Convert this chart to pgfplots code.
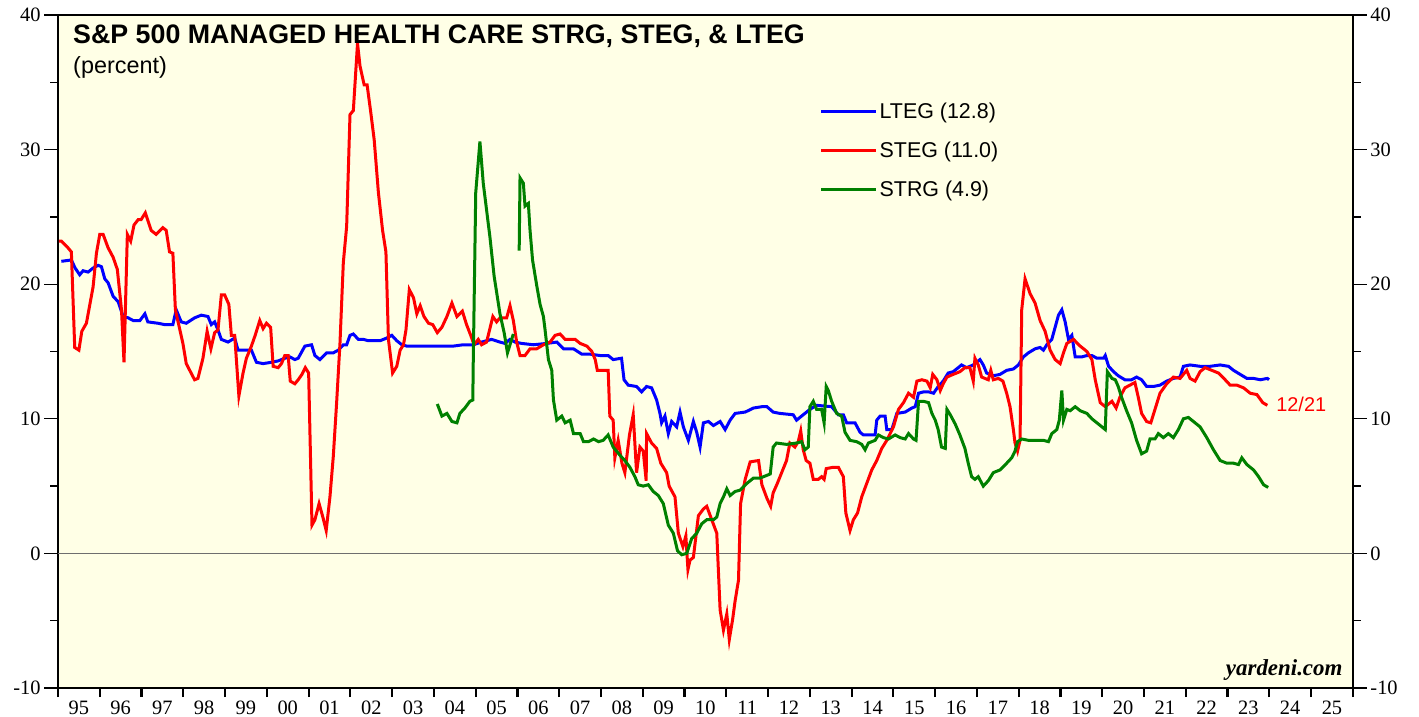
\documentclass[border=0pt]{standalone}
\usepackage{pgfplots}
\pgfplotsset{compat=1.18}
\usepackage{fontspec}
\setmainfont{Liberation Serif}
\newfontfamily\arial{Liberation Sans}
\definecolor{bgyellow}{RGB}{255,255,230}
\definecolor{zgray}{RGB}{110,110,110}
\definecolor{dgreen}{RGB}{0,128,0}
\pgfplotsset{
  base/.style={scale only axis, width=1295bp, height=673bp,
    xmin=1995, xmax=2026, ymin=-10, ymax=40, at={(0,0)}, anchor=south west},
}
\begin{document}
\begin{tikzpicture}
\useasboundingbox (-58bp,-29bp) rectangle (1361bp,688bp);
% left y ticks
\begin{axis}[base, hide x axis, axis line style={draw=none},
  ytick={-10,0,10,20,30,40}, yticklabels={-10,0,10,20,30,40},
  minor ytick={-5,5,15,25,35},
  ytick pos=left, tick align=outside, major tick length=14bp, minor tick length=8bp,
  every tick/.style={black, line width=1.3bp},
  yticklabel style={font=\fontsize{20.5}{24}\selectfont}]
\end{axis}
% right y ticks
\begin{axis}[base, hide x axis, axis line style={draw=none},
  ytick={-10,0,10,20,30,40}, yticklabels={-10,0,10,20,30,40},
  minor ytick={-5,5,15,25,35},
  ytick pos=right, yticklabel pos=right, tick align=outside, major tick length=14bp, minor tick length=8bp,
  every tick/.style={black, line width=1.3bp},
  yticklabel style={font=\fontsize{20.5}{24}\selectfont}]
\end{axis}
% main
\begin{axis}[base,
  axis background/.style={fill=bgyellow},
  axis line style={line width=2bp, black},
  xtick={1995,...,2026},
  xticklabels={95,96,97,98,99,00,01,02,03,04,05,06,07,08,09,10,11,12,13,14,15,16,17,18,19,20,21,22,23,24,25},
  x tick label as interval,
  xtick pos=left, tick align=outside, major tick length=9bp,
  every tick/.style={black, line width=2.2bp},
  xticklabel style={font=\fontsize{20.5}{24}\selectfont},
  ytick=\empty,
  legend style={at={(0.588,0.873)}, anchor=north west, draw=none, fill=none,
    inner sep=0pt, row sep=18bp, font=\arial\fontsize{21.5}{24}\selectfont},
  legend cell align=left,
  legend image code/.code={\draw[#1] (0bp,0bp) -- (45bp,0bp); \path (0bp,0bp) -- (55bp,0bp);},
]
\addplot[zgray, line width=1.3bp, forget plot] coordinates {(1995,0) (2026,0)};
\addplot[blue, line width=3bp] coordinates {
(1995.08,21.7)(1995.32,21.8)(1995.41,21.2)(1995.52,20.7)(1995.60,21.0)(1995.72,20.9)(1995.84,21.2)(1995.96,21.4)(1996.04,21.3)(1996.12,20.4)(1996.20,20.1)(1996.32,19.1)(1996.44,18.7)(1996.56,17.6)(1996.68,17.5)(1996.80,17.3)(1996.96,17.3)(1997.08,17.8)(1997.15,17.2)(1997.39,17.1)(1997.55,17.0)(1997.75,17.0)(1997.83,18.1)(1997.95,17.2)(1998.07,17.1)(1998.27,17.5)(1998.43,17.7)(1998.59,17.6)(1998.67,17.0)(1998.75,17.2)(1998.83,16.6)(1998.91,15.9)(1999.07,15.7)(1999.23,16.0)(1999.31,15.1)(1999.63,15.1)(1999.75,14.2)(1999.91,14.1)(2000.11,14.2)(2000.27,14.3)(2000.43,14.5)(2000.55,14.6)(2000.67,14.4)(2000.75,14.5)(2000.91,15.4)(2001.07,15.5)(2001.15,14.7)(2001.27,14.4)(2001.43,14.9)(2001.59,14.9)(2001.71,15.1)(2001.83,15.5)(2001.91,15.5)(2001.99,16.2)(2002.07,16.3)(2002.19,15.9)(2002.31,15.9)(2002.43,15.8)(2002.55,15.8)(2002.71,15.8)(2002.87,16.0)(2002.99,16.2)(2003.11,15.8)(2003.23,15.5)(2003.35,15.4)(2003.59,15.4)(2003.83,15.4)(2004.15,15.4)(2004.46,15.4)(2004.70,15.5)(2004.94,15.5)(2005.14,15.7)(2005.38,15.9)(2005.58,15.7)(2005.70,15.6)(2005.82,15.9)(2005.94,15.7)(2006.10,15.6)(2006.38,15.5)(2006.70,15.6)(2006.94,15.7)(2007.10,15.2)(2007.34,15.2)(2007.54,14.8)(2007.74,14.8)(2007.98,14.7)(2008.17,14.7)(2008.29,14.4)(2008.49,14.5)(2008.55,12.9)(2008.65,12.5)(2008.85,12.4)(2008.97,12.0)(2009.09,12.4)(2009.21,12.3)(2009.33,11.4)(2009.41,10.4)(2009.45,9.7)(2009.53,10.2)(2009.61,8.9)(2009.69,9.8)(2009.81,9.4)(2009.89,10.5)(2009.97,9.4)(2010.09,8.4)(2010.21,9.8)(2010.29,9.0)(2010.37,7.9)(2010.45,9.7)(2010.57,9.8)(2010.69,9.5)(2010.85,9.8)(2010.97,9.2)(2011.09,9.9)(2011.21,10.4)(2011.45,10.5)(2011.65,10.8)(2011.85,10.9)(2011.97,10.9)(2012.12,10.5)(2012.28,10.4)(2012.60,10.3)(2012.68,9.9)(2012.80,10.2)(2013.00,10.7)(2013.16,11.0)(2013.52,10.9)(2013.68,10.3)(2013.80,10.3)(2013.88,9.7)(2014.08,9.7)(2014.20,9.0)(2014.28,8.8)(2014.56,8.8)(2014.60,9.9)(2014.68,10.2)(2014.80,10.2)(2014.84,9.2)(2014.96,9.2)(2015.08,10.4)(2015.28,10.5)(2015.44,10.8)(2015.52,10.9)(2015.60,11.9)(2015.72,12.0)(2015.84,12.0)(2015.96,11.9)(2016.07,12.4)(2016.19,12.8)(2016.31,13.4)(2016.43,13.5)(2016.63,14.0)(2016.75,13.8)(2016.91,14.0)(2017.07,14.4)(2017.15,14.0)(2017.23,13.4)(2017.39,13.2)(2017.55,13.3)(2017.71,13.6)(2017.87,13.7)(2017.99,14.0)(2018.11,14.6)(2018.23,14.9)(2018.39,15.2)(2018.51,15.3)(2018.59,15.1)(2018.67,15.5)(2018.79,15.9)(2018.87,16.8)(2018.95,17.7)(2019.03,18.1)(2019.11,17.2)(2019.19,15.9)(2019.27,16.2)(2019.35,14.6)(2019.51,14.6)(2019.63,14.7)(2019.75,14.7)(2019.87,14.5)(2020.03,14.5)(2020.07,14.7)(2020.15,13.9)(2020.27,13.5)(2020.38,13.2)(2020.54,12.9)(2020.70,12.9)(2020.82,13.1)(2020.94,12.9)(2021.06,12.4)(2021.22,12.4)(2021.38,12.5)(2021.54,12.8)(2021.70,13.0)(2021.86,13.1)(2021.94,13.9)(2022.10,14.0)(2022.34,13.9)(2022.58,13.9)(2022.82,14.0)(2023.02,13.9)(2023.14,13.6)(2023.30,13.3)(2023.46,13.0)(2023.62,13.0)(2023.78,12.9)(2023.95,13.0)(2023.99,12.9)
};
\addlegendentry{LTEG (12.8)}
\addplot[red, line width=3bp] coordinates {
(1995.02,23.2)(1995.08,23.2)(1995.24,22.7)(1995.32,22.4)(1995.40,15.3)(1995.50,15.1)(1995.57,16.5)(1995.68,17.1)(1995.84,19.8)(1995.92,22.3)(1996.00,23.7)(1996.08,23.7)(1996.20,22.7)(1996.32,22.0)(1996.42,21.1)(1996.52,18.1)(1996.58,14.2)(1996.66,23.7)(1996.74,23.2)(1996.82,24.4)(1996.92,24.8)(1996.99,24.8)(1997.09,25.3)(1997.23,24.0)(1997.35,23.7)(1997.51,24.2)(1997.59,24.0)(1997.67,22.4)(1997.75,22.3)(1997.81,18.1)(1997.99,15.6)(1998.07,14.1)(1998.27,12.9)(1998.35,13.0)(1998.47,14.5)(1998.57,16.5)(1998.66,15.2)(1998.75,16.4)(1998.83,16.6)(1998.91,19.2)(1998.99,19.2)(1999.09,18.5)(1999.15,16.2)(1999.23,16.2)(1999.33,11.7)(1999.43,13.4)(1999.51,14.5)(1999.63,15.4)(1999.72,16.2)(1999.83,17.3)(1999.91,16.7)(1999.99,17.1)(2000.09,16.8)(2000.15,13.9)(2000.27,13.8)(2000.35,14.1)(2000.43,14.7)(2000.51,14.7)(2000.56,12.8)(2000.67,12.6)(2000.75,12.9)(2000.84,13.3)(2000.92,13.8)(2001.00,13.4)(2001.08,2.1)(2001.15,2.5)(2001.25,3.7)(2001.34,2.7)(2001.42,1.7)(2001.51,4.2)(2001.59,7.2)(2001.67,11.2)(2001.75,15.6)(2001.83,21.6)(2001.91,24.3)(2001.99,32.6)(2002.07,32.9)(2002.11,34.9)(2002.17,37.9)(2002.23,36.2)(2002.33,34.8)(2002.40,34.8)(2002.49,32.7)(2002.57,30.7)(2002.67,26.8)(2002.77,24.0)(2002.85,22.4)(2002.91,15.9)(2003.01,13.4)(2003.11,13.9)(2003.19,15.1)(2003.27,15.5)(2003.33,16.6)(2003.41,19.6)(2003.51,19.0)(2003.59,17.8)(2003.67,18.4)(2003.76,17.6)(2003.87,17.1)(2003.97,17.0)(2004.08,16.4)(2004.19,16.8)(2004.31,17.6)(2004.43,18.6)(2004.55,17.6)(2004.68,18.0)(2004.78,17.0)(2004.88,16.2)(2004.96,15.5)(2005.06,15.9)(2005.14,15.5)(2005.26,15.7)(2005.41,17.6)(2005.50,17.2)(2005.58,17.5)(2005.74,17.5)(2005.82,18.4)(2005.90,17.3)(2005.98,15.7)(2006.06,14.7)(2006.18,14.7)(2006.30,15.2)(2006.46,15.2)(2006.62,15.5)(2006.78,15.7)(2006.90,16.2)(2007.02,16.3)(2007.14,15.9)(2007.26,15.9)(2007.38,15.9)(2007.50,15.6)(2007.66,15.4)(2007.78,15.0)(2007.86,14.4)(2007.91,13.6)(2008.05,13.6)(2008.17,13.6)(2008.21,10.2)(2008.29,9.9)(2008.33,7.1)(2008.41,8.4)(2008.50,6.7)(2008.57,6.0)(2008.68,8.8)(2008.77,10.3)(2008.85,6.0)(2008.93,7.9)(2009.01,7.6)(2009.08,5.4)(2009.09,8.9)(2009.21,8.2)(2009.33,7.8)(2009.43,6.7)(2009.57,6.0)(2009.63,5.0)(2009.77,4.2)(2009.85,1.5)(2009.96,0.5)(2010.03,1.3)(2010.08,-1.2)(2010.13,-0.5)(2010.21,-0.3)(2010.33,2.8)(2010.45,3.3)(2010.53,3.5)(2010.65,2.5)(2010.77,1.5)(2010.85,-4.2)(2010.93,-5.7)(2011.01,-4.5)(2011.07,-6.4)(2011.15,-4.9)(2011.21,-3.5)(2011.29,-2.0)(2011.34,3.7)(2011.45,5.5)(2011.57,6.8)(2011.77,6.9)(2011.85,5.1)(2011.97,4.1)(2012.06,3.5)(2012.12,4.5)(2012.22,5.2)(2012.44,6.9)(2012.52,8.2)(2012.64,7.9)(2012.72,8.3)(2012.78,9.1)(2012.84,7.7)(2012.91,6.9)(2013.00,6.7)(2013.08,5.5)(2013.20,5.5)(2013.28,5.7)(2013.34,5.5)(2013.39,6.3)(2013.56,6.4)(2013.68,6.4)(2013.80,5.7)(2013.86,3.0)(2013.96,1.7)(2014.04,2.5)(2014.14,3.0)(2014.24,4.2)(2014.36,5.2)(2014.48,6.2)(2014.60,6.9)(2014.72,7.8)(2014.84,8.4)(2015.00,9.4)(2015.12,10.7)(2015.24,11.2)(2015.36,11.9)(2015.48,11.6)(2015.56,12.8)(2015.68,12.9)(2015.80,12.8)(2015.88,12.3)(2015.94,13.3)(2016.04,12.9)(2016.12,12.1)(2016.19,12.6)(2016.28,13.1)(2016.43,13.3)(2016.59,13.5)(2016.71,13.8)(2016.83,13.8)(2016.91,12.8)(2016.95,14.5)(2017.03,14.0)(2017.11,13.1)(2017.19,13.0)(2017.27,12.9)(2017.33,13.6)(2017.39,12.9)(2017.51,13.0)(2017.62,12.8)(2017.71,11.9)(2017.79,10.9)(2017.87,9.2)(2017.91,8.2)(2017.97,7.6)(2018.03,8.4)(2018.07,18.1)(2018.15,20.4)(2018.27,19.3)(2018.39,18.6)(2018.51,17.3)(2018.63,16.5)(2018.75,15.1)(2018.87,14.4)(2018.99,14.1)(2019.07,14.9)(2019.15,15.6)(2019.31,15.9)(2019.47,15.4)(2019.63,15.0)(2019.75,14.4)(2019.83,12.9)(2019.95,11.2)(2020.07,10.9)(2020.23,11.3)(2020.33,10.8)(2020.42,11.6)(2020.54,12.3)(2020.66,12.5)(2020.78,12.7)(2020.86,11.6)(2020.94,10.4)(2021.06,9.8)(2021.16,9.7)(2021.26,10.7)(2021.38,11.9)(2021.54,12.6)(2021.70,13.1)(2021.86,13.0)(2022.02,13.6)(2022.10,13.0)(2022.22,12.8)(2022.34,13.5)(2022.46,13.8)(2022.62,13.6)(2022.78,13.4)(2022.94,12.9)(2023.06,12.5)(2023.22,12.5)(2023.38,12.3)(2023.54,11.9)(2023.70,11.8)(2023.84,11.2)(2023.95,11.0)
};
\addlegendentry{STEG (11.0)}
\addplot[dgreen, line width=3bp] coordinates {
(2004.08,11.1)(2004.19,10.2)(2004.31,10.4)(2004.43,9.8)(2004.55,9.7)(2004.62,10.4)(2004.74,10.8)(2004.86,11.3)(2004.93,11.4)(2004.94,14.1)(2005.00,26.8)(2005.10,30.6)(2005.18,27.5)(2005.34,23.5)(2005.44,20.6)(2005.58,17.8)(2005.68,16.4)(2005.76,14.9)(2005.90,16.3)
};
\addlegendentry{STRG (4.9)}
\addplot[dgreen, line width=3bp, forget plot] coordinates {
(2006.04,22.5)(2006.06,27.9)(2006.14,27.5)(2006.18,25.8)(2006.26,26.0)(2006.30,24.0)(2006.36,21.8)(2006.46,19.9)(2006.54,18.5)(2006.62,17.6)(2006.66,16.6)(2006.74,14.4)(2006.82,13.6)(2006.86,11.4)(2006.94,9.9)(2007.06,10.2)(2007.14,9.7)(2007.26,9.9)(2007.34,8.9)(2007.50,8.9)(2007.58,8.3)(2007.70,8.3)(2007.82,8.5)(2007.94,8.3)(2008.05,8.4)(2008.17,8.8)(2008.29,7.9)(2008.45,7.3)(2008.57,6.9)(2008.69,6.4)(2008.81,5.7)(2008.89,5.1)(2009.01,5.0)(2009.13,5.1)(2009.25,4.6)(2009.37,4.3)(2009.49,3.7)(2009.61,2.1)(2009.73,1.5)(2009.83,0.2)(2009.93,-0.1)(2010.05,0.0)(2010.17,1.1)(2010.29,1.5)(2010.41,2.2)(2010.53,2.5)(2010.69,2.5)(2010.77,2.7)(2010.85,3.7)(2010.93,4.2)(2011.01,4.8)(2011.09,4.3)(2011.21,4.6)(2011.33,4.7)(2011.49,5.2)(2011.65,5.6)(2011.81,5.6)(2011.97,5.8)(2012.05,5.9)(2012.12,7.9)(2012.20,8.2)(2012.44,8.1)(2012.68,8.2)(2012.80,8.3)(2012.88,7.7)(2012.96,7.9)(2013.00,10.9)(2013.08,11.3)(2013.16,10.7)(2013.28,10.7)(2013.34,9.7)(2013.39,12.4)(2013.44,12.1)(2013.52,11.3)(2013.64,10.4)(2013.76,10.2)(2013.84,9.0)(2013.96,8.4)(2014.12,8.3)(2014.24,8.1)(2014.32,7.7)(2014.40,8.2)(2014.56,8.4)(2014.64,8.8)(2014.76,8.6)(2014.88,8.5)(2015.04,8.8)(2015.16,8.6)(2015.28,8.5)(2015.36,8.9)(2015.48,8.5)(2015.54,8.4)(2015.60,11.3)(2015.72,11.3)(2015.84,11.2)(2015.92,10.4)(2016.00,9.9)(2016.07,9.2)(2016.15,7.9)(2016.24,7.8)(2016.28,10.7)(2016.36,10.3)(2016.48,9.6)(2016.59,8.8)(2016.71,7.8)(2016.79,6.7)(2016.87,5.7)(2016.95,5.5)(2017.03,5.7)(2017.15,5.0)(2017.27,5.4)(2017.39,6.0)(2017.55,6.2)(2017.71,6.7)(2017.83,7.1)(2017.91,7.6)(2017.97,8.3)(2018.07,8.5)(2018.23,8.4)(2018.43,8.4)(2018.59,8.4)(2018.71,8.3)(2018.79,8.9)(2018.91,9.2)(2018.97,9.9)(2019.03,12.1)(2019.07,9.9)(2019.15,10.7)(2019.23,10.6)(2019.35,10.9)(2019.47,10.6)(2019.63,10.4)(2019.75,10.0)(2019.87,9.7)(2019.99,9.4)(2020.07,9.2)(2020.12,13.5)(2020.23,13.0)(2020.31,12.9)(2020.38,12.4)(2020.46,11.6)(2020.58,10.6)(2020.70,9.7)(2020.82,8.4)(2020.94,7.4)(2021.06,7.6)(2021.14,8.5)(2021.26,8.5)(2021.34,8.9)(2021.46,8.6)(2021.58,8.9)(2021.70,8.6)(2021.82,9.2)(2021.94,10.0)(2022.06,10.1)(2022.18,9.8)(2022.34,9.4)(2022.50,8.6)(2022.66,7.7)(2022.82,6.9)(2022.98,6.7)(2023.14,6.7)(2023.26,6.6)(2023.34,7.1)(2023.46,6.6)(2023.62,6.2)(2023.74,5.7)(2023.86,5.1)(2023.97,4.9)
};
\node[anchor=base west, font=\arial\bfseries\fontsize{26.9}{30}\selectfont, inner sep=0pt] at (rel axis cs:0.0116,0.957) {S\&P 500 MANAGED HEALTH CARE STRG, STEG, \& LTEG};
\node[anchor=base west, font=\arial\fontsize{23.5}{26}\selectfont, inner sep=0pt] at (rel axis cs:0.0116,0.913) {(percent)};
\node[anchor=west, text=red, font=\arial\fontsize{20}{24}\selectfont, inner sep=0pt] at (axis cs:2024.16,11.1) {12/21};
\node[anchor=base east, font=\bfseries\itshape\fontsize{23}{26}\selectfont, inner sep=0pt] at (rel axis cs:0.992,0.018) {yardeni.com};
\end{axis}
\end{tikzpicture}
\end{document}
